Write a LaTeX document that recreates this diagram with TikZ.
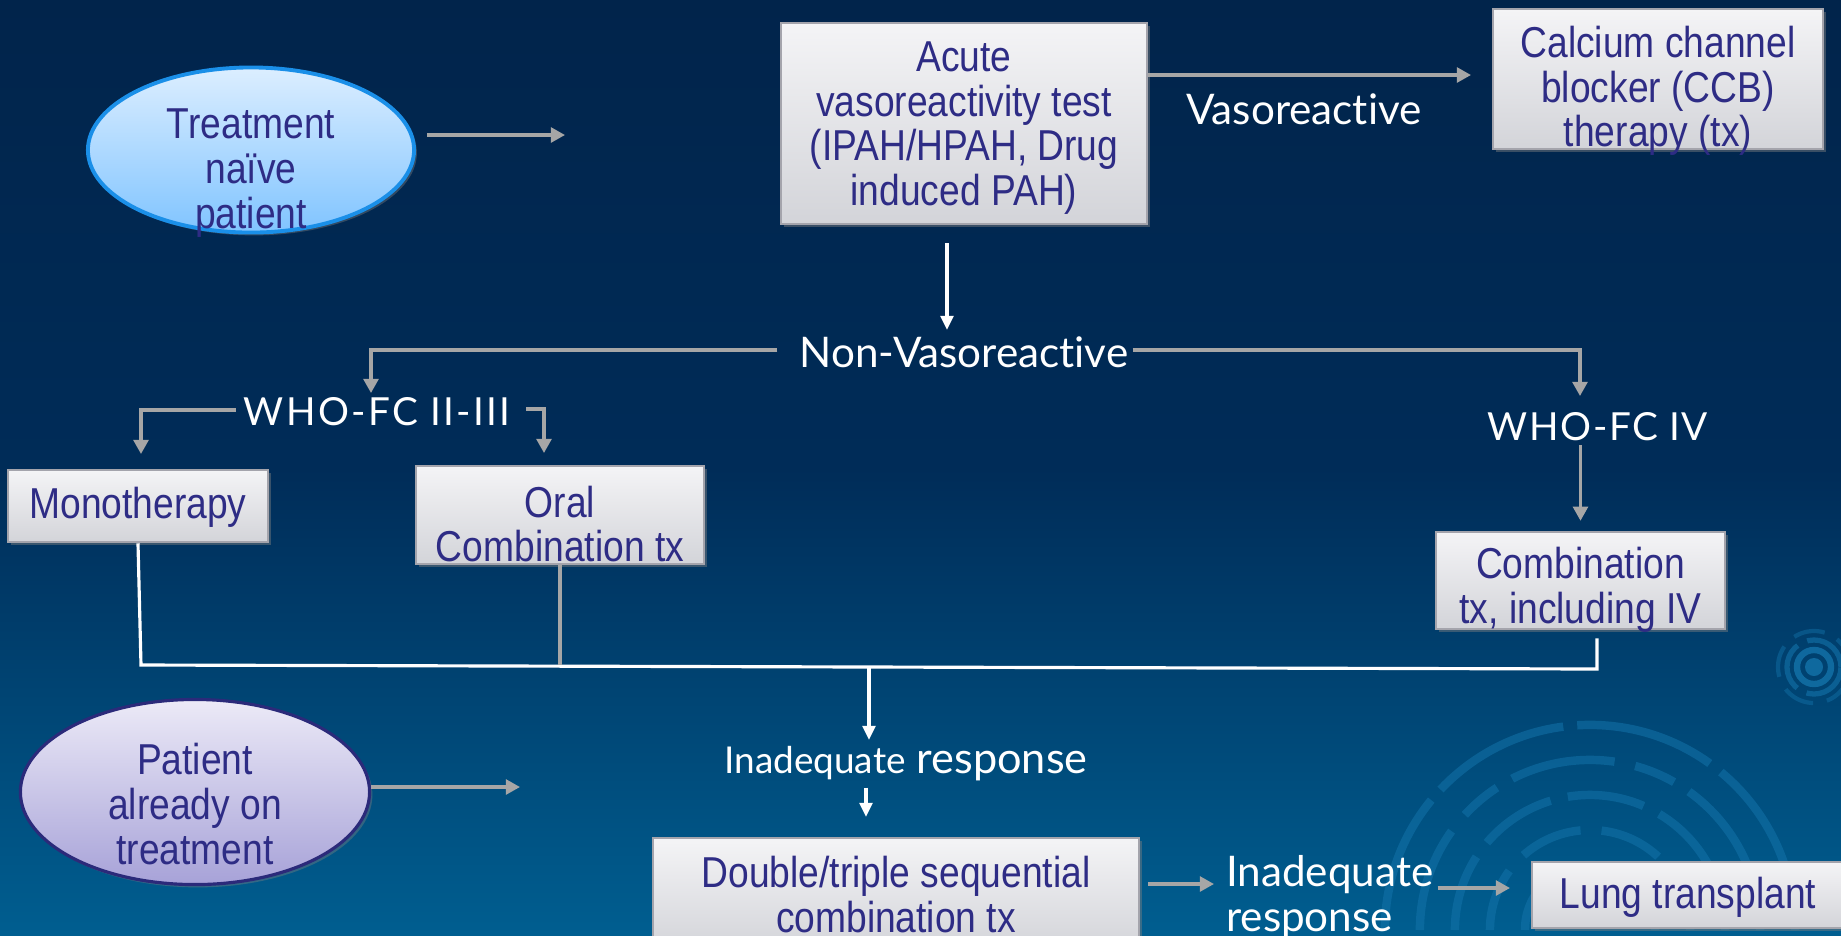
\documentclass[tikz,border=0pt]{standalone}
\usepackage{fontspec}
\setmainfont{Liberation Sans}
\newfontfamily\boxfont[FakeStretch=0.86]{Liberation Sans}
\newfontfamily\lblfont[Ligatures={NoCommon,NoContextual,NoRare}]{Lato}
\usetikzlibrary{shapes.geometric,arrows.meta,calc,shadows}
\definecolor{bgtop}{HTML}{01244B}
\definecolor{bgmid}{HTML}{002C58}
\definecolor{bgbot}{HTML}{005E90}
\definecolor{boxtop}{HTML}{F4F4F6}
\definecolor{boxbot}{HTML}{D3D4D9}
\definecolor{boxedge}{HTML}{A4A4AC}
\definecolor{ink}{HTML}{2E2C85}
\definecolor{conngray}{HTML}{A6A6A6}
\definecolor{tntop}{HTML}{DCEEFF}
\definecolor{tnbot}{HTML}{80C4FF}
\definecolor{tnedge}{HTML}{1A8FE8}
\definecolor{pattop}{HTML}{ECEAF7}
\definecolor{patbot}{HTML}{A7A2D8}
\definecolor{patedge}{HTML}{2B2A7A}
\definecolor{deco}{HTML}{1373AA}
\tikzset{
  box/.style={rectangle, draw=boxedge, line width=0.7pt, top color=boxtop, bottom color=boxbot,
    drop shadow={opacity=0.45, shadow xshift=0.8pt, shadow yshift=-0.8pt}},
  btext/.style={font=\boxfont\fontsize{12.3}{12.7}\selectfont, text=ink, align=center, inner sep=0pt},
  wlabel/.style={font=\lblfont\fontsize{12}{13}\selectfont, text=white, inner sep=1pt},
  garrow/.style={draw=conngray, line width=0.9pt, -{Triangle[length=4pt,width=4.2pt]}},
  warrow/.style={draw=white, line width=0.9pt, -{Triangle[length=4pt,width=3.6pt]}},
  gline/.style={draw=conngray, line width=0.9pt},
  wline/.style={draw=white, line width=0.9pt},
  ring/.style={draw=deco, draw opacity=0.55, line width=2.4pt},
}
\begin{document}
\begin{tikzpicture}[x=0.01cm,y=-0.01cm]
\useasboundingbox (0,0) rectangle (1841,935);
\fill[top color=bgtop, bottom color=bgbot, middle color=bgmid] (0,0) rectangle (1841,935);

% decorative rings
\begin{scope}
\clip (0,0) rectangle (1841,935);
\coordinate (rc) at (1590,930);
\draw[ring, dash pattern=on 40pt off 4pt] (rc) ++(180:2.05cm) arc[start angle=180, end angle=0, radius=2.05cm];
\draw[ring, dash pattern=on 30pt off 6pt on 12pt off 5pt] (rc) ++(180:1.7cm) arc[start angle=180, end angle=0, radius=1.7cm];
\draw[ring, dash pattern=on 22pt off 5pt] (rc) ++(180:1.35cm) arc[start angle=180, end angle=0, radius=1.35cm];
\draw[ring, dash pattern=on 18pt off 6pt] (rc) ++(180:1.0cm) arc[start angle=180, end angle=0, radius=1.0cm];
\draw[ring, dash pattern=on 40pt off 3pt] (rc) ++(180:0.65cm) arc[start angle=180, end angle=0, radius=0.65cm];
\coordinate (sc) at (1814,667);
\fill[deco, opacity=0.8] (sc) circle[radius=0.09cm];
\draw[ring, line width=1.8pt, draw opacity=0.8] (sc) circle[radius=0.17cm];
\draw[ring, line width=1.5pt, draw opacity=0.6, dash pattern=on 14pt off 3pt] (sc) circle[radius=0.27cm];
\draw[ring, line width=1.2pt, draw opacity=0.45, dash pattern=on 9pt off 4pt] (sc) circle[radius=0.36cm];
\coordinate (fc) at (900,1180);
\draw[ring, line width=2pt, draw opacity=0.35] (fc) ++(150:3.3cm) arc[start angle=150, end angle=60, radius=3.3cm];
\end{scope}

% ellipses
\node[ellipse, minimum width=3.26cm, minimum height=1.65cm, draw=tnedge, line width=1.1pt,
  top color=tntop, bottom color=tnbot, drop shadow={opacity=0.4, shadow xshift=0.8pt, shadow yshift=-0.8pt}] (tn) at (251,150) {};
\node[btext] (tnt) at (251,173) {Treatment\\naïve\\patient};
\node[ellipse, minimum width=3.49cm, minimum height=1.85cm, draw=patedge, line width=0.9pt,
  top color=pattop, bottom color=patbot, drop shadow={opacity=0.4, shadow xshift=0.8pt, shadow yshift=-0.8pt}] (pat) at (195,792) {};
\node[btext] (patt) at (195,804) {Patient\\already on\\treatment};

% boxes
\node[box, minimum width=3.66cm, minimum height=2.01cm] (acute) at (964,123.5) {};
\node[btext] (acutet) at (964,128) {Acute\\vasoreactivity test\\(IPAH/HPAH, Drug\\induced PAH)};
\node[box, minimum width=3.30cm, minimum height=1.40cm] (ccb) at (1658,79) {};
\node[btext] (ccbt) at (1658,91) {Calcium channel\\blocker (CCB)\\therapy (tx)};
\node[box, minimum width=2.60cm, minimum height=0.72cm] (mono) at (138,506) {};
\node[btext] (monot) at (138,507) {Monotherapy};
\node[box, minimum width=2.88cm, minimum height=0.98cm] (oral) at (560,515) {};
\node[btext] (oralt) at (560,524) {Oral\\Combination tx};
\node[box, minimum width=2.89cm, minimum height=0.97cm] (combo) at (1580.5,580.5) {};
\node[btext] (combot) at (1580.5,590) {Combination\\tx, including IV};
\node[box, minimum width=4.86cm, minimum height=1.12cm] (dbl) at (896,894) {};
\node[btext] (dblt) at (896,894.5) {Double/triple sequential\\combination tx};
\node[box, minimum width=3.12cm, minimum height=0.66cm] (lung) at (1688,895) {};
\node[btext] (lungt) at (1688,897) {Lung transplant};

% white labels
\node[wlabel] (vl) at (1304,109) {Vasoreactive};
\node[wlabel] (nv) at (964,352) {Non-Vasoreactive};
\node[wlabel, font=\lblfont\fontsize{11}{13}\selectfont\addfontfeature{LetterSpace=6}] (who23) at (377,412) {WHO-FC II-III};
\node[wlabel, font=\lblfont\fontsize{11}{13}\selectfont\addfontfeature{LetterSpace=4}] (who4) at (1598,427) {WHO-FC IV};
\node[wlabel, font=\lblfont\fontsize{12.3}{13}\selectfont] (inad) at (906,764) {{\fontsize{10.5}{12}\selectfont Inadequate} response};
\node[wlabel, anchor=west, align=left, font=\lblfont\fontsize{12}{12.8}\selectfont] (inad2) at (1222,897) {Inadequate\\response};

% connectors
\coordinate (tnEnd) at (565,135);
\draw[garrow] ($(tn.east)+(11,-15)$) -- (tnEnd);
\coordinate (ccbIn) at (1471,75);
\draw[garrow] (acute.east |- ccbIn) -- (ccbIn);
\coordinate (nvIn) at (947,330);
\draw[warrow] ($(nvIn |- acute.south)+(0,18)$) -- (nvIn);
\coordinate (w23In) at (371,393);
\draw[garrow] ($(nv.west)+(-18,-2)$) -| (w23In);
\coordinate (w4In) at (1580,396);
\draw[garrow] ($(nv.east)+(0,-2)$) -| (w4In);
\coordinate (monoIn) at (141,454);
\draw[garrow] ($(who23.west)+(-4,-2)$) -| (monoIn);
\coordinate (oralIn) at (544,453);
\draw[garrow] ($(who23.east)+(12,-3)$) -| (oralIn);
\draw[garrow] (who4.south -| combo.north) -- ($(combo.north)+(0,-10)$);

\coordinate (mL) at (141,665);
\coordinate (mR) at (1597,669);
\coordinate (mM) at (869,667);
\draw[wline] (mono.south) -- (mL) -- (mR) -- ($(mR |- combo.south)+(0,8)$);
\draw[gline] (oral.south) -- (oral.south |- mL);
\coordinate (inIn) at (869,740);
\draw[warrow] (mM) -- (inIn);
\coordinate (dIn) at (866,817);
\draw[warrow] ($(dIn |- inad.south)+(0,2)$) -- (dIn);
\coordinate (i2In) at (1214,884);
\draw[garrow] ($(dbl.east |- i2In)+(8,0)$) -- (i2In);
\coordinate (lungIn) at (1510,888);
\draw[garrow] (inad2.east |- lungIn) -- (lungIn);
\coordinate (patEnd) at (520,787);
\draw[garrow] (pat.east |- patEnd) -- (patEnd);
\end{tikzpicture}
\end{document}
